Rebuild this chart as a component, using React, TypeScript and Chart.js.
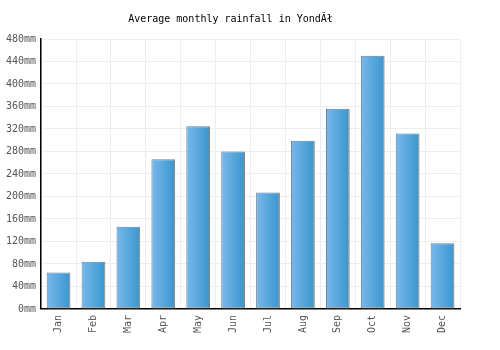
import React, { useEffect, useRef } from "react";
import { Chart, registerables } from "chart.js";

Chart.register(...registerables);

const months = ["Jan", "Feb", "Mar", "Apr", "May", "Jun", "Jul", "Aug", "Sep", "Oct", "Nov", "Dec"];
const rainfall = [65, 84, 146, 266, 325, 280, 207, 299, 356, 450, 312, 117];
const titleText = "Average monthly rainfall in YondĂł";
const yMax = 480;
const yStep = 40;

const FONT = "'DejaVu Sans Mono', monospace";
const BAR_PCT = 0.68;

export default function App() {
  const ref = useRef<HTMLCanvasElement | null>(null);
  useEffect(() => {
    if (!ref.current) return;
    const chart = new Chart(ref.current, {
      type: "bar",
      data: {
        labels: months,
        datasets: [
          {
            data: rainfall,
            borderColor: "#7a7a7a",
            borderWidth: 1,
            borderSkipped: false,
            categoryPercentage: 1,
            barPercentage: BAR_PCT,
            backgroundColor: (ctx: any) => {
              const c = ctx.chart;
              const xs = c.scales && c.scales.x;
              if (!xs || ctx.dataIndex === undefined) return "#5aaae0";
              const cx = xs.getPixelForValue(ctx.dataIndex);
              const w = (xs.width / months.length) * BAR_PCT;
              if (!isFinite(cx) || !isFinite(w) || w <= 0) return "#5aaae0";
              const g = c.ctx.createLinearGradient(cx - w / 2, 0, cx + w / 2, 0);
              g.addColorStop(0, "#7ab8ea");
              g.addColorStop(1, "#3896cf");
              return g;
            },
          },
        ],
      },
      options: {
        animation: false,
        responsive: false,
        layout: { padding: { left: 1, right: 40, top: 0, bottom: 11 } },
        plugins: {
          legend: { display: false },
          tooltip: { enabled: false },
          title: {
            display: true,
            text: titleText,
            color: "#000",
            font: { family: FONT, size: 10, weight: "normal" },
            padding: { top: 13, bottom: 14 },
          },
        },
        scales: {
          x: {
            grid: { color: "#eeeeee", offset: true, drawTicks: false },
            border: { color: "#000", width: 1.5 },
            ticks: {
              color: "#555",
              font: { family: FONT, size: 10 },
              minRotation: 90,
              maxRotation: 90,
              padding: 6,
            },
          },
          y: {
            min: 0,
            max: yMax,
            grid: { color: "#eeeeee", drawTicks: false },
            border: { color: "#000", width: 1.5 },
            ticks: {
              stepSize: yStep,
              color: "#555",
              font: { family: FONT, size: 10 },
              padding: 5,
              callback: (v: any) => v + "mm",
            },
          },
        },
      },
    });
    chart.update();
    return () => chart.destroy();
  }, []);
  return (
    <div style={{ position: "fixed", left: 0, top: 0, width: 500, height: 350, background: "#fff" }}>
      <canvas ref={ref} width={500} height={350} style={{ width: 500, height: 350 }} />
    </div>
  );
}
